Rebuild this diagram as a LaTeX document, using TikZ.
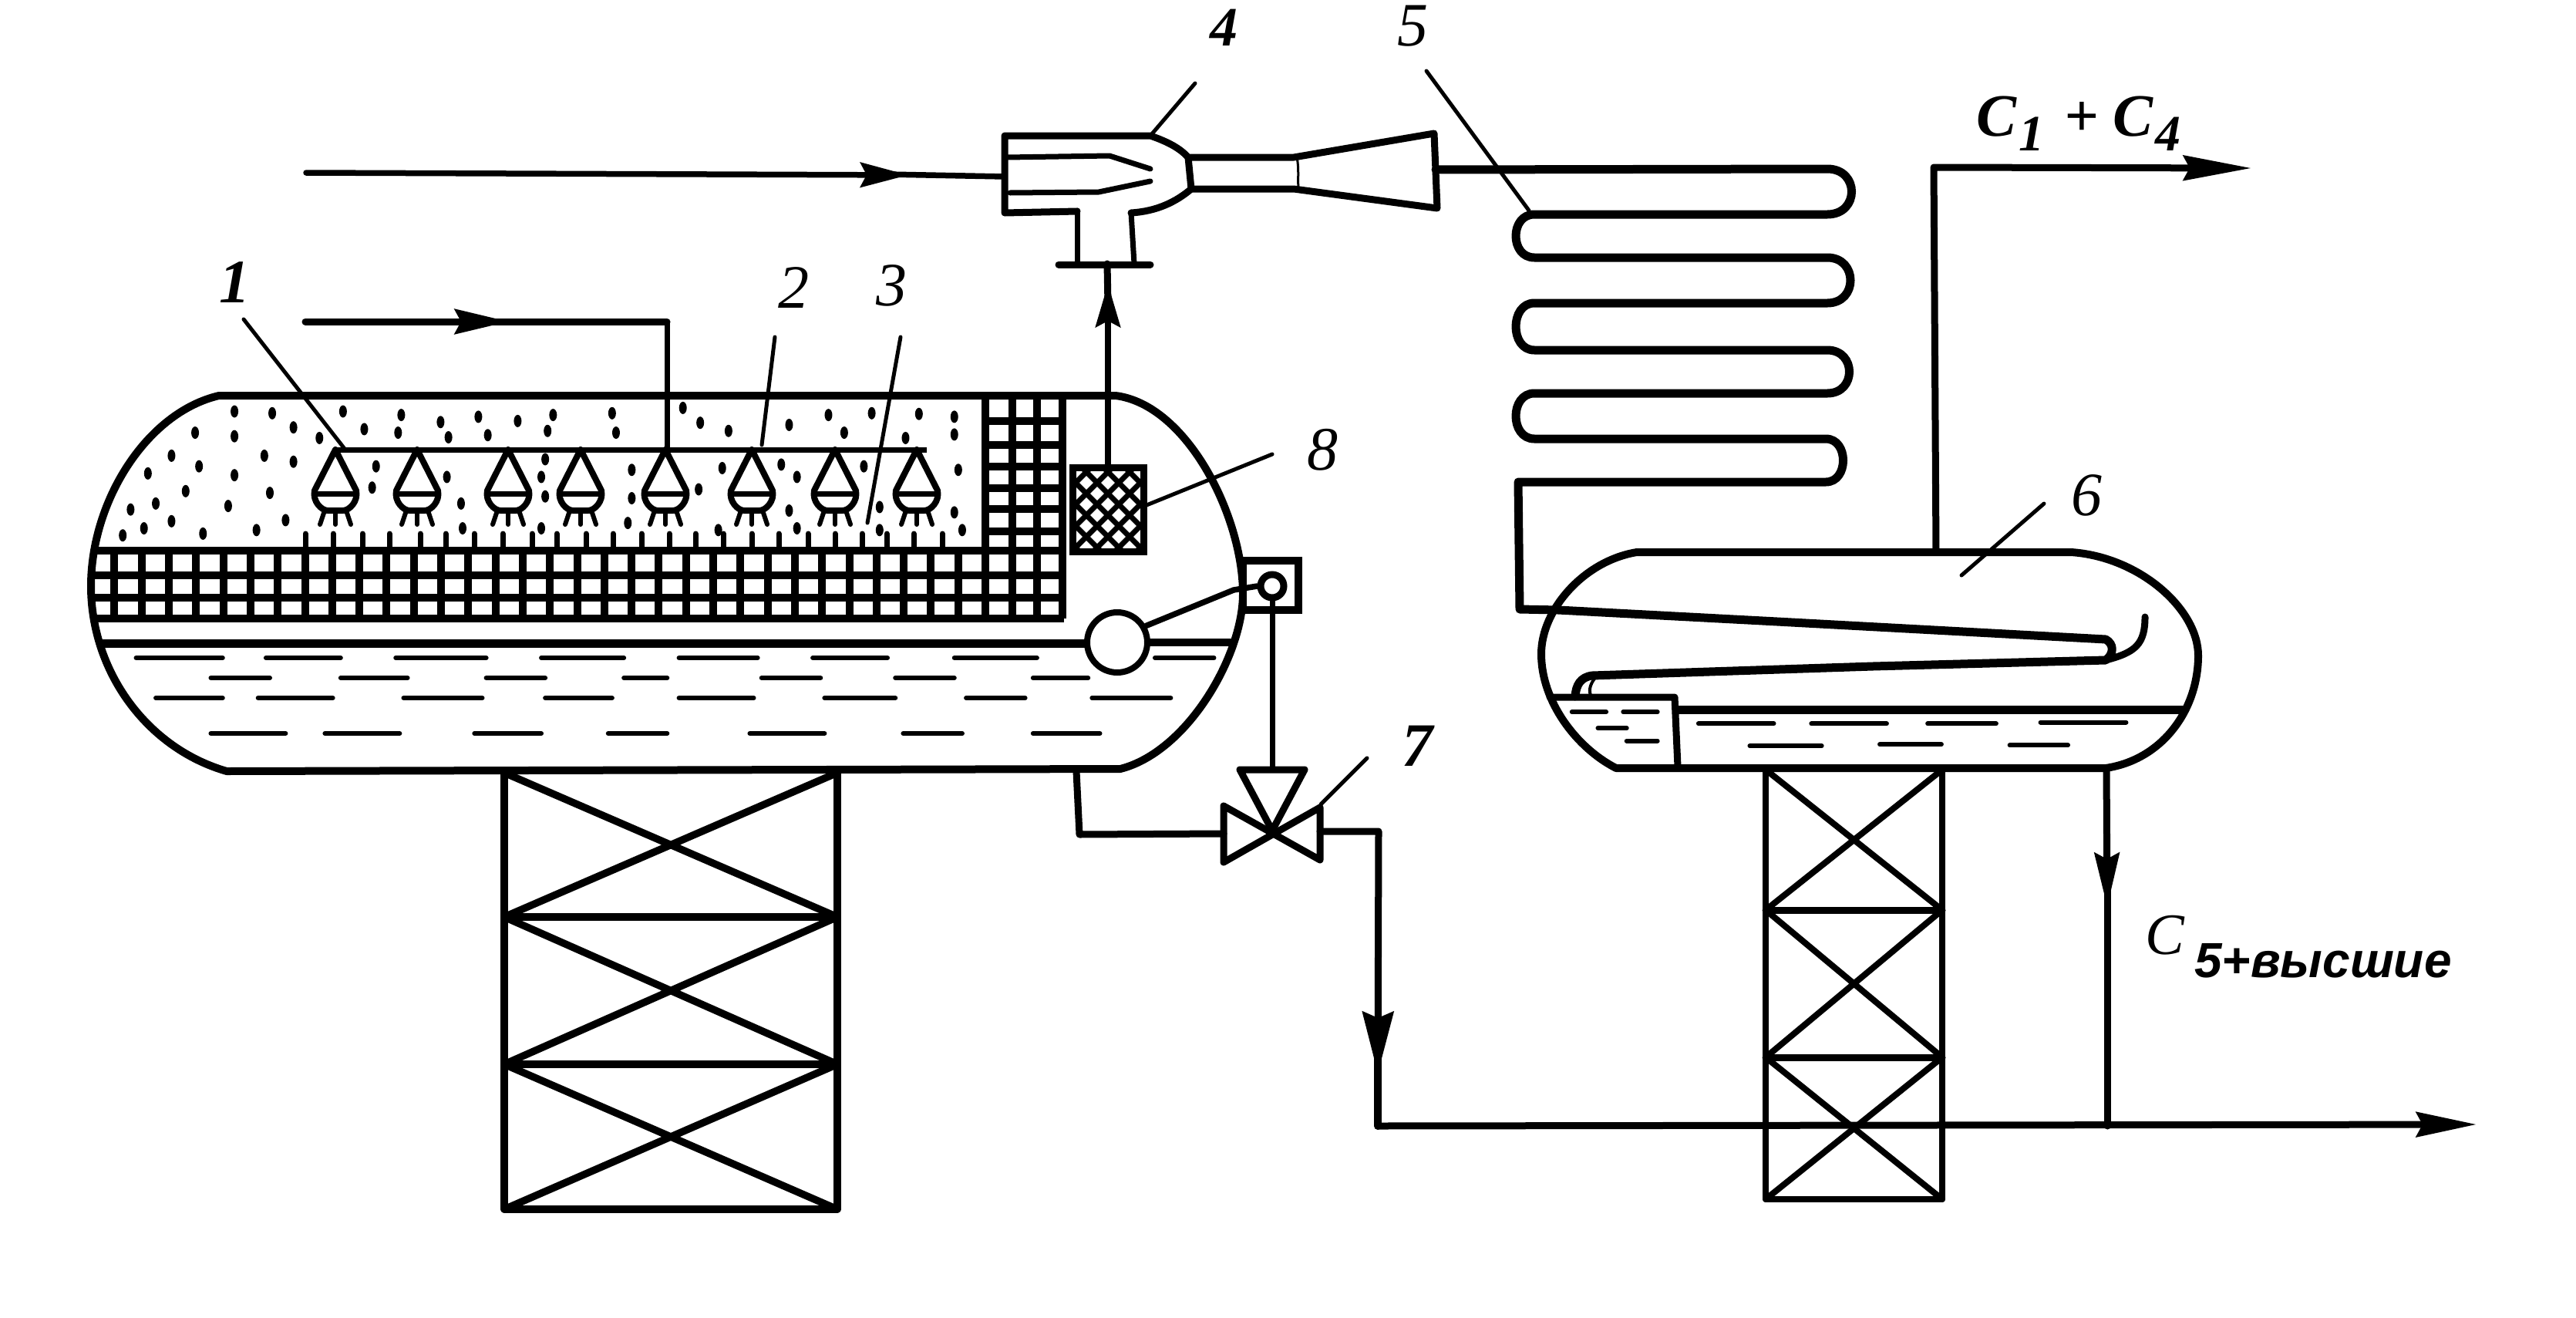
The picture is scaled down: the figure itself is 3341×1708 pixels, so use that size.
\documentclass[tikz,border=0pt]{standalone}
\usepackage{fontspec}
\setmainfont{Liberation Serif}
\newfontfamily\lblsans{Liberation Sans}
\usetikzlibrary{arrows.meta}
\tikzset{
  wall/.style={line width=10pt,line cap=round,line join=round},
  pipe/.style={line width=9pt,line cap=round,line join=round},
  thinline/.style={line width=5pt,line cap=round,line join=round},
  gridline/.style={line width=9.5pt},
  dashmark/.style={line width=6pt,line cap=round},
  tower/.style={line width=9.5pt,line cap=round,line join=round},
  numlabel/.style={inner sep=0pt,font=\fontsize{80}{80}\selectfont\itshape},
  flowtip/.style={-{Stealth[length=#1,width=32pt,inset=8pt]}},
  flowtip/.default=62pt
}
\begin{document}
\begin{tikzpicture}[x=1pt,y=-1pt]
\useasboundingbox (0,0) rectangle (3341,1708);
\fill[white] (0,0) rectangle (3341,1708);

% ---- vessel 1 ----
\draw[wall] (284,513) -- (1447,513) .. controls (1540,525) and (1612,670) .. (1612,770)
  .. controls (1612,850) and (1540,975) .. (1453,997) -- (294,1000)
  .. controls (190,970) and (118,870) .. (118,760) .. controls (118,650) and (190,535) .. (284,513) -- cycle;

% packing grid
\foreach \y in {714,746,775,802} \draw[gridline] (122,\y) -- (1380,\y);
\foreach \y in {546,577,605,633,660,689} \draw[gridline] (1278,\y) -- (1380,\y);
\foreach \x in {1278,1313,1345,1378} \draw[line width=10pt] (\x,513) -- (\x,802);
\foreach \k in {1,...,32} \draw[line width=10pt] ({1278-35.3*\k},714) -- ({1278-35.3*\k},802);

% liquid level
\draw[line width=11pt] (126,834) -- (1412,834);
\draw[line width=10pt] (1487,833) -- (1597,833);

% stipple
\foreach \a/\b in {200/465,248/470,338/465,412/475,462/495,510/480,560/492,605/475,680/470,770/455,792/497,828/520,905/503,955/475,1010/470,1070/472,1115/480,150/525,200/535,275/510,308/540,365/515,408/525,472/538,522/532,598/520,685/525,975/525,1053/540,1115/530,120/590,238/590,275/607,90/640,200/645,155/620,138/690,245/695,100/725,192/732,68/742,120/775,265/772,85/795,58/815,160/810,228/800,380/620,470/650,375/680,488/725,595/600,590/650,705/630,820/625,895/615,915/650,1000/620,1120/630,790/685,905/745,1020/735,1115/750,595/705,705/710,490/795,590/795,700/780,815/800,915/795,1125/800,1020/800}
  \fill ({100+\a/.98},{320+\b/2.178}) ellipse [x radius=5,y radius=8];

% spray strokes above the packing
\foreach \x in {396,432,470,505,545,578,615,652,690,722,760,795,832,868,902,938,975,1010,1048,1083,1118,1150,1185,1222}
  \draw[line width=7pt,line cap=round] (\x,692) -- (\x,712);

% spray header and nozzles
\coordinate (hl) at (437,583);
\coordinate (hr) at (1202,583);
\coordinate (hf) at (865,583);
\draw[line width=7pt] (hl) -- (hr);
\foreach \x in {435,541,659,753,863,975,1083,1189} {
  \draw[line width=8pt,line join=round,fill=white] (\x,583) -- (\x-27,636) .. controls (\x-30,650) and (\x-18,662) .. (\x-10,662) -- (\x+10,662) .. controls (\x+18,662) and (\x+30,650) .. (\x+27,636) -- cycle;
  \draw[line width=7pt] (\x-26,640) -- (\x+26,640);
  \draw[line width=6pt,line cap=round] (\x-14,662) -- (\x-20,680);
  \draw[line width=6pt,line cap=round] (\x,662) -- (\x,680);
  \draw[line width=6pt,line cap=round] (\x+14,662) -- (\x+20,680);
}

% feed to header
\coordinate (f0) at (396,417);
\coordinate (f1) at (660,417);
\coordinate (f1a) at (630,417);
\coordinate (f2) at (865,417);
\draw[pipe,line width=9pt,flowtip=70pt] (f0) -- (f1);
\draw[pipe,line width=9pt] (f1a) -- (f2);
\draw[line width=7pt] (f2) -- (hf);

% dashes in liquid
\foreach \y/\list in {853/{75/185,240/335,405/520,590/695,765/865,935/1030,1115/1220,1370/1445},879/{170/245,335/420,520/595,695/750,870/945,1040/1115,1215/1285},905/{100/185,230/325,415/515,595/680,765/860,950/1040,1130/1205,1290/1390},951/{170/265,315/410,505/590,675/750,855/950,1050/1125,1215/1300}}
  \foreach \a/\b in \list \draw[dashmark] ({100+\a/.98},\y) -- ({100+\b/.98},\y);

% demister 8
\begin{scope}
  \clip (1391,606) rectangle (1483,715);
  \foreach \k in {-100,-72,...,200} {
    \draw[line width=7pt] (1391+\k,606) -- (1391+\k+110,716);
    \draw[line width=7pt] (1483-\k,606) -- (1483-\k-110,716);
  }
\end{scope}
\node[draw,line width=9pt,minimum width=92pt,minimum height=109pt,inner sep=0pt] (filter) at (1437,660.5) {};

% ejector 4
\coordinate (ejin) at (1303,229);
\coordinate (ejdn) at (1436,342);
\coordinate (ejout) at (1862,220);
\draw[pipe] (1397,274) -- (1303,276) -- (1303,176) -- (1492,176) .. controls (1515,184) and (1530,192) .. (1541,204) -- (1678,204) -- (1860,173) -- (1864,270) -- (1678,245) -- (1545,245) .. controls (1525,262) and (1500,274) .. (1467,276);
\draw[pipe] (1541,204) -- (1545,245);
\draw[line width=3pt] (1682,204) .. controls (1685,218) and (1683,232) .. (1684,245);
\draw[pipe,line width=7pt] (1306,204) -- (1439,202) -- (1492,219);
\draw[pipe,line width=7pt] (1310,250) -- (1425,249) -- (1492,235);
\draw[pipe,line width=7pt] (1397,273) -- (1397,342);
\draw[pipe,line width=7pt] (1467,276) -- (1471,342);
\draw[pipe,line width=9pt] (1373,343) -- (1492,343);

% gas line up from the demister
\coordinate (upt) at (1437,368);
\coordinate (upa) at (1437,395);
\draw[pipe,line width=8pt,flowtip=56pt] (filter.north) -- (upt);
\draw[pipe,line width=9pt] (upa) -- (ejdn);

% inlet to the ejector
\coordinate (in0) at (397,224);
\coordinate (in1) at (1178,227);
\coordinate (in1a) at (1150,226);
\draw[pipe,line width=7.5pt,flowtip=62pt] (in0) -- (in1);
\draw[pipe,line width=7.5pt] (in1a) -- (ejin);

% coil 5
\draw[wall,line width=11pt] (ejout) -- (2370,219) .. controls (2412,219) and (2412,278) .. (2370,278)
  -- (1990,278) .. controls (1958,278) and (1958,334) .. (1990,334)
  -- (2370,334) .. controls (2410,334) and (2410,393) .. (2370,393)
  -- (1990,393) .. controls (1958,393) and (1958,454) .. (1990,454)
  -- (2370,454) .. controls (2408,454) and (2408,510) .. (2370,510)
  -- (1990,510) .. controls (1958,510) and (1958,569) .. (1990,569)
  -- (2368,569) .. controls (2398,569) and (2398,625) .. (2368,625)
  -- (1969,625) -- (1971,790) -- (2021,791)
  -- (2305,806) -- (2731,829) .. controls (2742,835) and (2742,848) .. (2731,856)
  -- (2429,864) -- (2065,876) .. controls (2050,878) and (2044,888) .. (2043,903);
\draw[pipe] (2731,856) .. controls (2770,846) and (2782,835) .. (2782,800);
\draw[line width=4pt] (2068,880) .. controls (2062,888) and (2060,896) .. (2064,904);

% vessel 6
\draw[wall] (2123,716) -- (2686,716) .. controls (2775,722) and (2851,790) .. (2851,850)
  .. controls (2851,920) and (2805,985) .. (2731,996) -- (2096,996)
  .. controls (2045,970) and (1999,910) .. (1999,848) .. controls (1999,790) and (2055,727) .. (2123,716) -- cycle;
\draw[line width=11pt] (2172,920) -- (2836,920);
\draw[pipe] (2010,904) -- (2172,904) -- (2176,994);
\foreach \a/\b/\y in {100/150/975,175/225/975,138/180/1030,180/225/1073,285/395/1015,450/560/1015,620/720/1015,785/910/1010,360/465/1090,550/640/1085,740/825/1088}
  \draw[dashmark] ({1950+\a/1.127},{550+\y/2.613}) -- ({1950+\b/1.127},{550+\y/2.613});

% float and level regulator
\node[circle,draw,fill=white,line width=8pt,minimum size=78pt,inner sep=0pt] (float) at (1449,833) {};
\node[draw,line width=10pt,minimum width=72pt,minimum height=64pt,inner sep=0pt,fill=white] (pbox) at (1648,759) {};
\node[circle,draw,line width=9pt,minimum size=30pt,inner sep=0pt,fill=white] (pivot) at (1650,760) {};
\draw[pipe,line width=7.5pt] (float.30) -- (1600,765) -- (pivot.west);
\coordinate (vt) at (1650,998);
\draw[pipe,line width=7pt] (pbox.south -| pivot.south) -- (vt);
\draw[pipe,line width=7pt] (pivot.south) -- (pbox.south -| pivot.south);

% valve 7
\coordinate (vc) at (1650,1077);
\coordinate (vl) at (1587,1081);
\coordinate (vr) at (1712,1081);
\draw[wall,line width=9pt] (1587,1045) -- (1712,1115) -- (1712,1047) -- (1587,1118) -- cycle;
\draw[wall,line width=9pt] (1608,998) -- (1692,998) -- (vc) -- cycle;

% liquid line to the valve and onward
\coordinate (p1) at (1396,1000);
\coordinate (p2) at (1400,1082);
\draw[pipe] (p1) -- (p2) -- (vl);
\coordinate (p3) at (1788,1078);
\coordinate (p4) at (1787,1392);
\coordinate (p4a) at (1787,1350);
\coordinate (p5) at (1787,1460);
\coordinate (p6) at (3212,1458);
\draw[pipe,-{Stealth[length=80pt,width=40pt,inset=8pt]}] (vr |- p3) -- (p3) -- (p4);
\draw[pipe,line width=10pt] (p4a) -- (p5);
\draw[pipe,line width=9pt,flowtip=78pt] (p5) -- (p6);

% drain of vessel 6
\coordinate (c6a) at (2732,998);
\coordinate (c6b) at (2733,1176);
\coordinate (c6ba) at (2733,1140);
\coordinate (c6c) at (2733,1460);
\draw[pipe,flowtip=70pt] (c6a) -- (c6b);
\draw[pipe] (c6ba) -- (c6c);

% overhead from vessel 6
\coordinate (t0) at (2511,716);
\coordinate (t1) at (2508,217);
\coordinate (t2) at (2920,218);
\draw[pipe,flowtip=88pt] (t0) -- (t1) -- (t2);

% tower 1
\draw[tower] (654,1002) -- (654,1568) -- (1086,1568) -- (1086,1002);
\draw[tower] (654,1189) -- (1086,1189) (654,1380) -- (1086,1380);
\draw[tower] (654,1002) -- (1086,1189) (1086,1002) -- (654,1189);
\draw[tower] (654,1189) -- (1086,1380) (1086,1189) -- (654,1380);
\draw[tower] (654,1380) -- (1086,1568) (1086,1380) -- (654,1568);

% tower 2
\draw[tower,line width=8pt] (2290,998) -- (2290,1555) -- (2519,1555) -- (2519,998);
\draw[tower,line width=9pt] (2290,1180) -- (2519,1180) (2290,1371) -- (2519,1371);
\draw[tower,line width=8pt] (2290,998) -- (2519,1180) (2519,998) -- (2290,1180);
\draw[tower,line width=8pt] (2290,1180) -- (2519,1371) (2519,1180) -- (2290,1371);
\draw[tower,line width=8pt] (2290,1371) -- (2519,1555) (2519,1371) -- (2290,1555);

% labels
\node[numlabel,font=\fontsize{80}{80}\selectfont\bfseries\itshape] (n1) at (304,366) {1};
\node[numlabel] (n2) at (1029,373) {2};
\node[numlabel] (n3) at (1156,370) {3};
\node[numlabel,font=\fontsize{72}{72}\selectfont\bfseries\itshape] (n4) at (1587,36) {4};
\node[numlabel] (n5) at (1832,34) {5};
\node[numlabel] (n6) at (2706,642) {6};
\node[numlabel,font=\fontsize{80}{80}\selectfont\bfseries\itshape] (n7) at (1838,967) {7};
\node[numlabel] (n8) at (1715,583) {8};
\node[inner sep=0pt,font=\fontsize{78}{78}\selectfont\bfseries\itshape] (ctop) at (2696,160) {C\hspace{3pt}\raisebox{-19pt}{\fontsize{66}{66}\selectfont 1}\hspace{26pt}+\hspace{18pt}C\hspace{3pt}\raisebox{-19pt}{\fontsize{66}{66}\selectfont 4}};
\node[inner sep=0pt,font=\fontsize{76}{76}\selectfont\itshape] (cbot) at (2808,1213) {C};
\node[inner sep=0pt,anchor=west,font=\lblsans\fontsize{64}{64}\selectfont\bfseries\itshape] (cbots) at (2846,1246) {5+высшие};

% leaders
\coordinate (e1a) at (316,414); \coordinate (e1b) at (447,582);
\coordinate (e2a) at (1005,437); \coordinate (e2b) at (988,577);
\coordinate (e3a) at (1168,437); \coordinate (e3b) at (1125,678);
\coordinate (e4a) at (1550,108); \coordinate (e4b) at (1492,176);
\coordinate (e5a) at (1850,92); \coordinate (e5b) at (1983,273);
\coordinate (e6a) at (2651,653); \coordinate (e6b) at (2544,746);
\coordinate (e7a) at (1773,983); \coordinate (e7b) at (1713,1043);
\coordinate (e8a) at (1650,589); \coordinate (e8b) at (1487,655);
\foreach \a/\b in {e1a/e1b,e2a/e2b,e3a/e3b,e4a/e4b,e5a/e5b,e6a/e6b,e7a/e7b,e8a/e8b}
  \draw[thinline] (\a) -- (\b);
\end{tikzpicture}
\end{document}
